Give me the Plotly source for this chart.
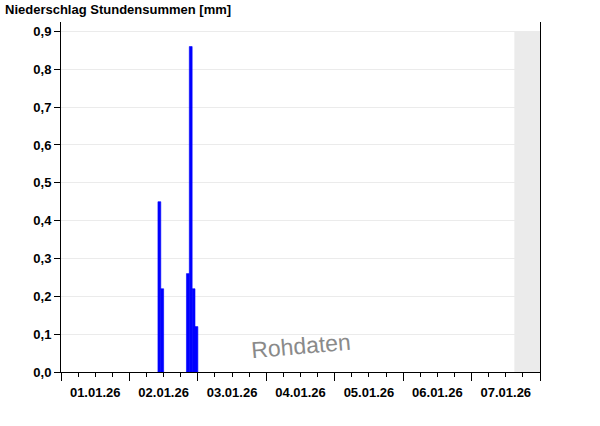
import plotly.graph_objects as go

# hourly sums, bar start times
stunden = ["2026-01-02 10:00", "2026-01-02 11:00",
           "2026-01-02 20:00", "2026-01-02 21:00", "2026-01-02 22:00", "2026-01-02 23:00"]
niederschlag = [0.45, 0.22, 0.26, 0.86, 0.22, 0.12]

x_start = "2026-01-01 00:00"
x_end = "2026-01-08 00:00"
grau_ab = "2026-01-07 15:00"

HOUR = 3600000
font = dict(family="Liberation Sans, Arial", size=13, color="black", weight="bold")

fig = go.Figure()
fig.add_trace(go.Bar(
    x=stunden, y=niederschlag, width=[HOUR] * len(stunden), offset=0,
    marker=dict(color="#0000ff", line=dict(width=0.6, color="#0000ff")),
))

fig.add_shape(type="rect", xref="x", yref="y", x0=grau_ab, x1=x_end, y0=0, y1=0.9,
              fillcolor="#ebebeb", line=dict(width=0), layer="below")

fig.add_annotation(text="Rohdaten", xref="paper", yref="paper", x=0.5, y=0.074,
                   xanchor="center", yanchor="middle",
                   showarrow=False, textangle=-5,
                   font=dict(family="Liberation Sans, Arial", size=23, color="#8a8a8a"))

fig.update_layout(
    width=600, height=426,
    margin=dict(l=61, r=60, t=22, b=54),
    paper_bgcolor="white", plot_bgcolor="white",
    separators=",.",
    showlegend=False,
    title=dict(text="Niederschlag Stundensummen [mm]", x=5 / 600, xanchor="left",
               y=1 - 9 / 426, yanchor="middle", font=font),
    xaxis=dict(
        type="date", range=[x_start, x_end],
        dtick=86400000, tick0=x_start, tickformat="%d.%m.%y", ticklabelmode="period",
        ticks="outside", ticklen=8, tickcolor="black", showline=True, linecolor="black",
        showgrid=False, zeroline=False, tickfont=font,
        minor=dict(dtick=6 * HOUR, ticks="outside", ticklen=4, tickcolor="black", showgrid=False),
    ),
    yaxis=dict(
        range=[0, 0.925], dtick=0.1, tick0=0, tickformat=".1f",
        ticks="outside", ticklen=6, tickcolor="black", showline=True, linecolor="black",
        mirror=True, showgrid=True, gridcolor="#ebebeb", zeroline=False, tickfont=font,
    ),
)

# page margin off so the figure sits at the window corner
fig.write_html("out.html", config={"displayModeBar": False},
               post_script="document.body.style.margin='0';")
